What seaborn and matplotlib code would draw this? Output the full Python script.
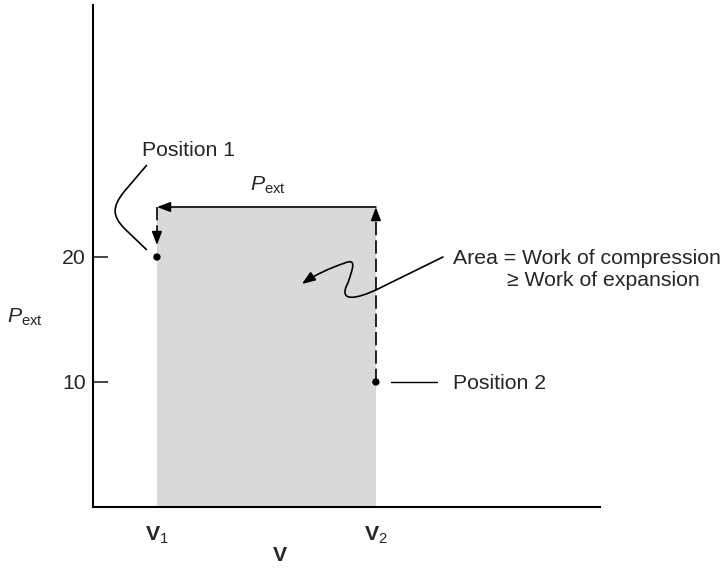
import numpy as np
import pandas as pd
import seaborn as sns
import matplotlib.pyplot as plt
from matplotlib.path import Path
from matplotlib.patches import FancyArrowPatch, PathPatch

# data
v_ticks = [1.0, 2.0]                 # V1, V2
v_labels = [r'$\mathbf{V}_1$', r'$\mathbf{V}_2$']
p_ticks = [10, 20]
p_ext = 24.0                          # constant external pressure (top of shaded area)
positions = pd.DataFrame({'V': [1.0, 2.0], 'P': [20, 10],
                          'name': ['Position 1', 'Position 2']})

sns.set_style('white')
plt.rcParams['font.family'] = ['Liberation Sans', 'DejaVu Sans']
plt.rcParams['mathtext.fontset'] = 'custom'
plt.rcParams['mathtext.rm'] = 'Liberation Sans'
plt.rcParams['mathtext.it'] = 'Liberation Sans:italic'
plt.rcParams['mathtext.bf'] = 'Liberation Sans:bold'

fig = plt.figure(figsize=(7.23, 5.68), dpi=100)
ax = fig.add_axes([0.1286, 0.1074, 0.7012, 0.8838])

# shaded work area
ax.fill_between(v_ticks, 0, p_ext, color='#d9d9d9', lw=0, zorder=0)

# the two states
sns.scatterplot(data=positions, x='V', y='P', ax=ax, color='black', s=28,
                edgecolor='none', zorder=5, legend=False)

head = '-|>,head_length=0.8,head_width=0.3'

# compression at P_ext: top arrow right to left
ax.annotate('', xy=(v_ticks[0], p_ext), xytext=(v_ticks[1], p_ext),
            arrowprops=dict(arrowstyle=head, lw=1.2, color='black', shrinkA=0, shrinkB=0))

# dashed verticals
dash = (0, (8, 3))
ax.plot([v_ticks[0], v_ticks[0]], [p_ext, 21.2], color='black', lw=1.2, ls=dash)
ax.annotate('', xy=(v_ticks[0], 20.95), xytext=(v_ticks[0], 21.6),
            arrowprops=dict(arrowstyle=head, lw=1.2, color='black', shrinkA=0, shrinkB=0))
ax.plot([v_ticks[1], v_ticks[1]], [positions['P'][1], p_ext - 0.6], color='black', lw=1.2, ls=dash)
ax.annotate('', xy=(v_ticks[1], p_ext), xytext=(v_ticks[1], p_ext - 0.7),
            arrowprops=dict(arrowstyle=head, lw=1.2, color='black', shrinkA=0, shrinkB=0))

# labels
fs = 15.3
ax.text(0.932, 28.5, 'Position 1', fontsize=fs, va='center', ha='left')
ax.text(1.507, 24.9, r'$P_{\mathrm{ext}}$', fontsize=fs, va='bottom', ha='center')
ax.text(2.35, 19.9, 'Area = Work of compression', fontsize=fs, va='center', ha='left')
ax.text(2.597, 18.1, '\u2265 Work of expansion', fontsize=fs, va='center', ha='left')
ax.text(2.35, 9.9, 'Position 2', fontsize=fs, va='center', ha='left')
ax.plot([2.07, 2.28], [10, 10], color='black', lw=1.0)

# curved leader for Position 1
verts = [(0.954, 27.36), (0.849, 25.2),
         (0.795, 24.0), (0.795, 23.28), (0.854, 22.24),
         (0.954, 20.56)]
codes = [Path.MOVETO, Path.LINETO, Path.CURVE4, Path.CURVE4, Path.CURVE4, Path.LINETO]
ax.add_patch(PathPatch(Path(verts, codes), fill=False, lw=1.2, color='black'))

# wiggly arrow into the area
verts = [(2.306, 20.0), (2.009, 17.44),
         (1.904, 16.56), (1.826, 16.4), (1.872, 17.92),
         (1.895, 19.12), (1.913, 19.92), (1.858, 19.52),
         (1.790, 19.12), (1.721, 18.56), (1.662, 17.84)]
codes = [Path.MOVETO, Path.LINETO] + [Path.CURVE4] * 9
ax.add_patch(FancyArrowPatch(path=Path(verts, codes), arrowstyle=head,
                             lw=1.2, color='black', mutation_scale=10))

# axes
ax.set_xlim(0.708, 3.023)
ax.set_ylim(0, 40.16)
sns.despine(ax=ax)
for s in ['left', 'bottom']:
    ax.spines[s].set_linewidth(1.5)
    ax.spines[s].set_color('black')
ax.set_yticks(p_ticks)
ax.set_yticklabels([str(t) for t in p_ticks], fontsize=fs)
ax.tick_params(axis='y', direction='in', length=11, width=1.2, pad=5, left=True)
ax.set_xticks(v_ticks)
ax.set_xticklabels(v_labels, fontsize=fs)
ax.tick_params(axis='x', length=0, pad=13)
ax.set_xlabel('')
ax.set_ylabel('')
ax.text(-0.134, 0.377, r'$P_{\mathrm{ext}}$', fontsize=fs, transform=ax.transAxes,
        ha='center', va='center')
ax.text(0.369, -0.096, 'V', fontsize=fs, fontweight='bold', transform=ax.transAxes,
        ha='center', va='center')

fig.savefig('out.png', dpi=100)
